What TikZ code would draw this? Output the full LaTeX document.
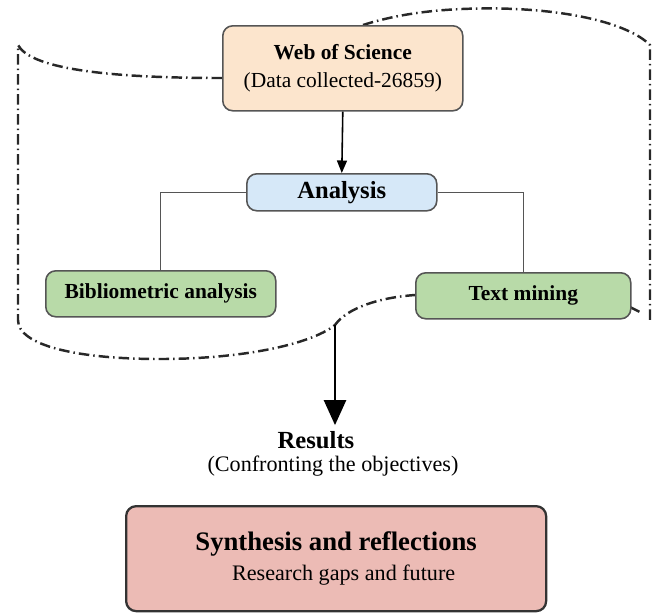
\documentclass[tikz,border=0pt]{standalone}
\usepackage{fontspec}
\setmainfont{Liberation Serif}
\usetikzlibrary{arrows.meta}

\definecolor{wosfill}{RGB}{252,229,205}
\definecolor{anafill}{RGB}{214,232,248}
\definecolor{greenfill}{RGB}{184,218,168}
\definecolor{synfill}{RGB}{236,187,181}
\definecolor{boxline}{RGB}{85,85,85}
\definecolor{cylline}{RGB}{40,40,40}

\tikzset{
  box/.style={rectangle, rounded corners=0.2cm, draw=boxline, line width=0.9pt, anchor=north west, align=center, inner sep=0pt},
  cyl/.style={draw=cylline, line width=1.4pt, dash pattern=on 0.21cm off 0.08cm on 0.03cm off 0.08cm},
  link/.style={draw=boxline, line width=0.7pt},
}

\begin{document}
\begin{tikzpicture}
\useasboundingbox (0,0) rectangle (13.08,-12.26);

% dash-dot outline round the analysis part
\coordinate (cylBot) at (6.7,-6.5);
\draw[cyl] (4.44,-1.56) .. controls (2,-1.56) and (0.6,-1.35) .. (0.36,-0.9) -- (0.36,-6.4) .. controls (0.36,-6.9) and (1.5,-7.18) .. (3.2,-7.18) .. controls (4.8,-7.18) and (6.2,-6.9) .. (cylBot) .. controls (6.95,-6.15) and (7.6,-5.95) .. (8.3,-5.9);
\draw[cyl] (7.26,-0.5) .. controls (8.2,-0.2) and (9.2,-0.16) .. (10,-0.17) .. controls (11.5,-0.2) and (12.6,-0.5) .. (13.0,-0.9) -- (13.0,-6.4);
\draw[cyl] (12.6,-6.14) -- (12.84,-6.26);

\node (rectWoS) [box, fill=wosfill, minimum width=48mm, minimum height=17mm, font=\fontsize{12.2}{16}\selectfont] at (4.44,-0.5) {\bfseries Web of Science\\(Data collected-26859)};

\node (rectAna) [box, fill=anafill, minimum width=38mm, minimum height=7.4mm, font=\fontsize{14}{16}\selectfont\bfseries] at (4.92,-3.46) {Analysis};

\node (rectBib) [box, fill=greenfill, minimum width=46mm, minimum height=9.2mm, font=\fontsize{12.2}{14}\selectfont\bfseries] at (0.9,-5.4) {Bibliometric analysis};
\node (rectTxt) [box, fill=greenfill, minimum width=43mm, minimum height=9.2mm, font=\fontsize{12.2}{14}\selectfont\bfseries] at (8.3,-5.44) {Text mining};

\node (res) [font=\fontsize{14}{16}\selectfont\bfseries] at (6.32,-8.8) {Results};
\node (resSub) [font=\fontsize{12.6}{15}\selectfont] at (6.66,-9.32) {(Confronting the objectives)};

\node (rectSyn) [box, fill=synfill, draw=black!80, line width=1.3pt, minimum width=84mm, minimum height=21mm, font=\fontsize{12.6}{17}\selectfont] at (2.5,-10.1) {{\fontsize{15.2}{17}\selectfont\bfseries Synthesis and reflections}\\\hspace*{0.3cm}Research gaps and future};

\draw[-{Triangle[width=0.2cm,length=0.25cm]}, line width=0.9pt] (rectWoS.south) -- (rectAna.north);
\draw[link] (rectAna.west) -| (rectBib.north);
\draw[link] (rectAna.east) -| (rectTxt.north);
\draw[-{Triangle[width=0.44cm,length=0.5cm]}, line width=1.4pt] (cylBot) -- (cylBot |- res.north);
\end{tikzpicture}
\end{document}
